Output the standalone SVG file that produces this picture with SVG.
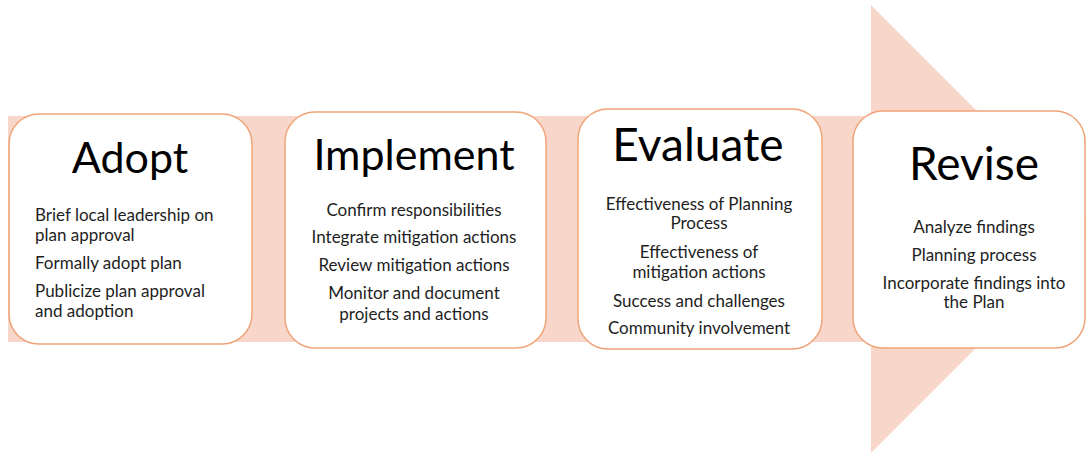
<svg xmlns="http://www.w3.org/2000/svg" width="1086" height="454" viewBox="0 0 1086 454">
<style>
.bg{fill:#F8D6CA;stroke:none}
.box{fill:#FFFFFF;stroke:#EFA478;stroke-width:1.5}
.title{font-family:Lato,"Open Sans",sans-serif;font-size:43px;fill:#000;text-anchor:middle}
.big{font-size:46px}
.body{font-family:Lato,"Open Sans",sans-serif;font-size:17px;fill:#1e1e1e;text-anchor:middle}
.left{text-anchor:start}
</style>
<g id="arrow">
<path class="bg" d="M8,116 H871 V5 L1095,229 L871,453 V342 H8 Z"/>
</g>
<g id="connectors"></g>
<g id="adopt">
<rect class="box" x="9" y="114" width="243" height="230" rx="30" ry="30"/>
<text class="title" x="130" y="173">Adopt</text>
<text class="body left" x="35" y="221">Brief local leadership on</text>
<text class="body left" x="35" y="241">plan approval</text>
<text class="body left" x="35" y="269">Formally adopt plan</text>
<text class="body left" x="35" y="297">Publicize plan approval</text>
<text class="body left" x="35" y="317">and adoption</text>
</g>
<g id="implement">
<rect class="box" x="285" y="112" width="261" height="236" rx="30" ry="30"/>
<text class="title" x="414" y="170">Implement</text>
<text class="body" x="414" y="216">Confirm responsibilities</text>
<text class="body" x="414" y="243">Integrate mitigation actions</text>
<text class="body" x="414" y="271">Review mitigation actions</text>
<text class="body" x="414" y="299">Monitor and document</text>
<text class="body" x="414" y="320">projects and actions</text>
</g>
<g id="evaluate">
<rect class="box" x="578" y="109" width="244" height="240" rx="30" ry="30"/>
<text class="title big" x="698" y="161">Evaluate</text>
<text class="body" x="699" y="210">Effectiveness of Planning</text>
<text class="body" x="699" y="229">Process</text>
<text class="body" x="699" y="258">Effectiveness of</text>
<text class="body" x="699" y="278">mitigation actions</text>
<text class="body" x="699" y="307">Success and challenges</text>
<text class="body" x="699" y="334">Community involvement</text>
</g>
<g id="revise">
<rect class="box" x="853" y="111" width="232" height="237" rx="30" ry="30"/>
<text class="title big" x="974" y="180">Revise</text>
<text class="body" x="974" y="233">Analyze findings</text>
<text class="body" x="974" y="261">Planning process</text>
<text class="body" x="974" y="289">Incorporate findings into</text>
<text class="body" x="974" y="308">the Plan</text>
</g>
</svg>
